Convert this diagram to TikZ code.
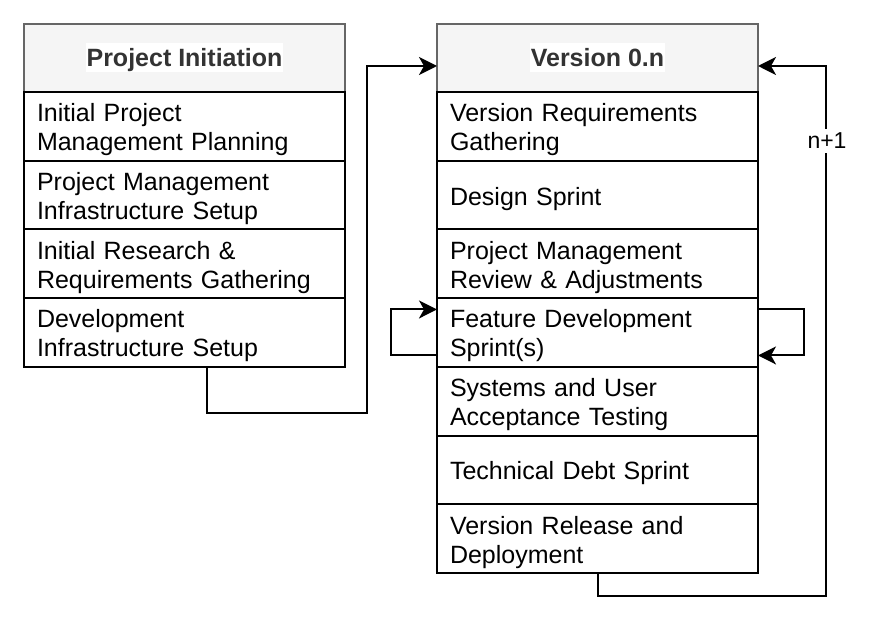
\documentclass[tikz,border=0pt]{standalone}
\usepackage{fontspec}
\setmainfont{Liberation Sans}
\usetikzlibrary{arrows.meta,calc}
\definecolor{headfill}{HTML}{F5F5F5}
\definecolor{headline}{HTML}{666666}
\definecolor{headtext}{HTML}{333333}
\newcommand\rowfont{\fontsize{25pt}{29pt}\selectfont}
\newcommand\tagfont{\fontsize{23pt}{27pt}\selectfont}
% struts that fix the height of the first line and the depth of the last one
\newcommand\topstrut{\rule{0pt}{27pt}}
\newcommand\botstrut{\rule[-7pt]{0pt}{7pt}}
\begin{document}
\begin{tikzpicture}[x=1pt,y=-1pt,
  headbox/.style={draw=headline, fill=headfill, line width=2pt, minimum width=321pt,
    minimum height=68pt, inner sep=0pt, outer sep=0pt, anchor=north west},
  headlabel/.style={fill=white, text=headtext, inner xsep=1pt, inner ysep=0pt,
    text height=24pt, text depth=5pt, font=\rowfont\bfseries},
  rowbox/.style={draw=black, line width=2pt, text width=295pt, inner xsep=13pt,
    inner ysep=0pt, outer sep=0pt, minimum height=68.7pt, align=left,
    anchor=north west, font=\rowfont,
    execute at begin node=\topstrut, execute at end node=\botstrut},
  flow/.style={draw=black, line width=2pt,
    -{Stealth[length=18pt,width=18pt,inset=5pt]}},
  tag/.style={fill=white, inner xsep=1pt, inner ysep=4pt, font=\tagfont}]
\useasboundingbox (0,0) rectangle (873,639);

% project initiation table
\node[headbox] (pi) at (24,24) {};
\node[headlabel] (pilabel) at ([yshift=0.5pt]pi.center) {Project Initiation};
\node[rowbox] (pi1) at (24,92)    {Initial Project\\Management Planning};
\node[rowbox] (pi2) at (24,160.7) {Project Management\\Infrastructure Setup};
\node[rowbox] (pi3) at (24,229.4) {Initial Research \&\\Requirements Gathering};
\node[rowbox] (pi4) at (24,298.1) {Development\\Infrastructure Setup};

% version table
\node[headbox] (ver) at (437,24) {};
\node[headlabel] (verlabel) at ([yshift=0.5pt]ver.center) {Version 0.n};
\node[rowbox] (v1) at (437,92)    {Version Requirements\\Gathering};
\node[rowbox] (v2) at (437,160.7) {Design Sprint};
\node[rowbox] (v3) at (437,229.4) {Project Management\\Review \& Adjustments};
\node[rowbox] (v4) at (437,298.1) {Feature Development\\Sprint(s)};
\node[rowbox] (v5) at (437,366.8) {Systems and User\\Acceptance Testing};
\node[rowbox] (v6) at (437,435.5) {Technical Debt Sprint};
\node[rowbox] (v7) at (437,504.2) {Version Release and\\Deployment};

% entry points on the version header and bends of the long connectors
\coordinate (vin)  at ([yshift=-8pt]ver.west);
\coordinate (vout) at ([yshift=-8pt]ver.east);
\coordinate (piout) at ([xshift=22.5pt]pi4.south);
\coordinate (leftbend) at (367,413);
\coordinate (backbend) at (826,596);

% initiation -> version
\draw[flow] (piout) |- (leftbend) |- (vin);

% next version loop
\draw[flow] (v7.south) |- (backbend) |- (vout);
\node[tag] (nlabel) at (827,141) {n+1};

% sprint repetition loops
\draw[flow] ([yshift=-23pt]v4.west) -| ([xshift=-46pt,yshift=23pt]v4.west) -- ([yshift=23pt]v4.west);
\draw[flow] ([yshift=23pt]v4.east) -| ([xshift=46pt,yshift=-23pt]v4.east) -- ([yshift=-23pt]v4.east);
\end{tikzpicture}
\end{document}
